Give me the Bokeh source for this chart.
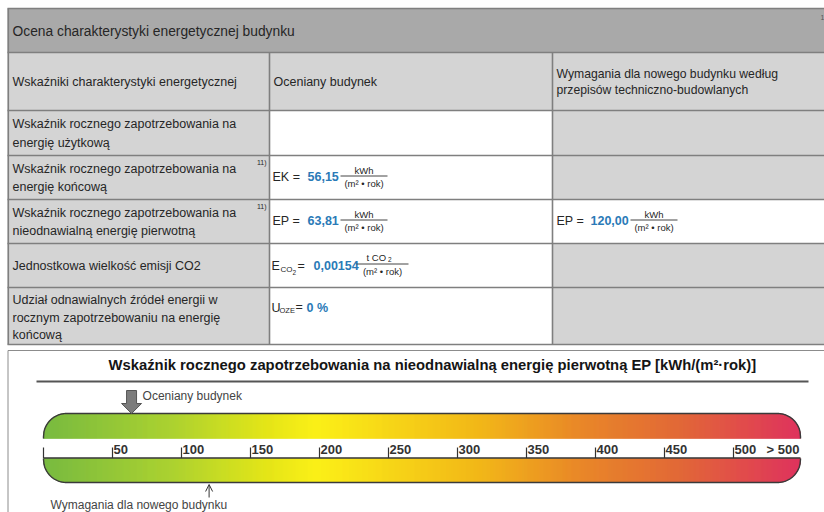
import numpy as np
from bokeh.plotting import figure
from bokeh.models import Range1d, Arrow, OpenHead
from bokeh.embed import file_html
from bokeh.resources import INLINE
from bokeh.core.properties import value

# ---------------- data ----------------
table_title = "Ocena charakterystyki energetycznej budynku"
col_header_1 = "Wskaźniki charakterystyki energetycznej"
col_header_2 = "Oceniany budynek"
col_header_3 = ["Wymagania dla nowego budynku według", "przepisów techniczno-budowlanych"]
row_labels = [
    ["Wskaźnik rocznego zapotrzebowania na", "energię użytkową"],
    ["Wskaźnik rocznego zapotrzebowania na", "energię końcową"],
    ["Wskaźnik rocznego zapotrzebowania na", "nieodnawialną energię pierwotną"],
    ["Jednostkowa wielkość emisji CO2"],
    ["Udział odnawialnych źródeł energii w", "rocznym zapotrzebowaniu na energię", "końcową"],
]
footnote_mark = "11)"
ek_building = 56.15
ep_building = 63.81
ep_required = 120.00
eco2_building = 0.00154
oze_building = 0
scale_title = "Wskaźnik rocznego zapotrzebowania na nieodnawialną energię pierwotną EP [kWh/(m²·rok)]"
scale_ticks = [0, 50, 100, 150, 200, 250, 300, 350, 400, 450, 500]
scale_tick_labels = ["", "50", "100", "150", "200", "250", "300", "350", "400", "450", "500"]
scale_overflow_label = "> 500"
marker_building = "Oceniany budynek"
marker_required = "Wymagania dla nowego budynku"

# ---------------- style / layout ----------------
FONT = value("Liberation Sans")
TXT = "#262626"
BLUE = "#2a7ab7"
DARK = "#a9a9a9"
LIGHT = "#d4d4d4"
WHITE = "#ffffff"
BORDER = "#7f7f7f"

W, H = 824, 512
p = figure(width=W, height=H, x_range=Range1d(0, W), y_range=Range1d(H, 0),
           output_backend="svg", toolbar_location=None, min_border=0,
           x_axis_location=None, y_axis_location=None)
p.grid.visible = False
p.outline_line_color = None
p.background_fill_color = "white"

BAR_L, BAR_R = 43.0, 800.0
PX_PER_EP = 1.38
p.extra_x_ranges = {"ep": Range1d((0 - BAR_L) / PX_PER_EP, (W - BAR_L) / PX_PER_EP)}


def txt(x, y, s, size="12.5px", bold=False, color=TXT, align="left", baseline="middle",
        xr=None, x_offset=0):
    kw = dict(x=[x], y=[y], text=[s], text_font=FONT, text_font_size=value(size),
              text_font_style="bold" if bold else "normal", text_color=color,
              text_align=align, text_baseline=baseline, x_offset=x_offset)
    if xr:
        kw["x_range_name"] = xr
    p.text(**kw)


def fmt(v, d):
    return f"{v:.{d}f}".replace(".", ",")


# ---------------- table ----------------
rows_y = [8, 52, 110, 155, 199, 243, 287, 344]
cols_x = [7, 269, 552, 824]
cell_fill = [
    [LIGHT, LIGHT, LIGHT],
    [LIGHT, WHITE, LIGHT],
    [LIGHT, WHITE, LIGHT],
    [LIGHT, WHITE, WHITE],
    [LIGHT, WHITE, LIGHT],
    [LIGHT, WHITE, LIGHT],
]
L, R_, T, B, C = [7], [824], [rows_y[0]], [rows_y[1]], [DARK]
for ri, row in enumerate(cell_fill):
    for ci, col in enumerate(row):
        L.append(cols_x[ci]); R_.append(cols_x[ci + 1])
        T.append(rows_y[ri + 1]); B.append(rows_y[ri + 2]); C.append(col)
p.quad(left=L, right=R_, top=T, bottom=B, fill_color=C, line_color=None)

# borders
p.segment(x0=[7] * len(rows_y), y0=rows_y, x1=[824] * len(rows_y), y1=rows_y,
          line_color=BORDER, line_width=1.6)
p.segment(x0=[7.8, 269, 552], y0=[8, 52, 52], x1=[7.8, 269, 552], y1=[344, 344, 344],
          line_color=BORDER, line_width=1.6)

# header texts
txt(12, 31, table_title, size="13.8px")
txt(820, 17, "1", size="7px", color="#555555")
txt(12, 81, col_header_1)
txt(273, 81, col_header_2)
txt(556, 73, col_header_3[0], size="12.2px")
txt(556, 89, col_header_3[1], size="12.2px")

# row labels
label_lines_y = [[123, 142], [168, 186], [212, 230], [265], [299, 317, 334]]
for lines, ys in zip(row_labels, label_lines_y):
    for s, yy in zip(lines, ys):
        txt(12, yy, s)
txt(266, 162, footnote_mark, size="7px", align="right")
txt(266, 206, footnote_mark, size="7px", align="right")

UNIT_DEN = "(m² • rok)"


def frac(cx, yl, num, den, hw):
    txt(cx, yl - 6, num, size="9.5px", align="center")
    p.segment(x0=[cx - hw], y0=[yl], x1=[cx + hw], y1=[yl], line_color="#444", line_width=1)
    txt(cx, yl + 7.5, den, size="9.5px", align="center")


# EK
txt(272, 176, "EK =")
txt(307, 176, fmt(ek_building, 2), bold=True, color=BLUE)
frac(363.5, 175.5, "kWh", UNIT_DEN, 23.5)
# EP
txt(272, 220, "EP =")
txt(307, 220, fmt(ep_building, 2), bold=True, color=BLUE)
frac(363.5, 219.5, "kWh", UNIT_DEN, 23.5)
txt(556, 220, "EP =")
txt(590, 220, fmt(ep_required, 2), bold=True, color=BLUE)
frac(653.5, 219.5, "kWh", UNIT_DEN, 23.5)
# CO2
txt(271, 265, "E")
txt(280, 269, "CO", size="8px")
txt(292, 271.5, "2", size="6.5px")
txt(297, 265, "=")
txt(313, 265, fmt(eco2_building, 5), bold=True, color=BLUE)
txt(366, 257, "t CO", size="9.5px")
txt(387.5, 259, "2", size="6.5px")
p.segment(x0=[356], y0=[263.5], x1=[408], y1=[263.5], line_color="#444", line_width=1)
txt(382, 271, UNIT_DEN, size="9.5px", align="center")
# OZE
txt(271, 307, "U")
txt(279, 310, "OZE", size="7.5px")
txt(295, 306, "=")
txt(306, 307, f"{oze_building} %", bold=True, color=BLUE)

# ---------------- scale box ----------------
p.segment(x0=[7.5, 7.5], y0=[350, 350], x1=[824, 7.5], y1=[350, 512],
          line_color="#8c8c8c", line_width=1)
txt(432, 364, scale_title, size="14.8px", bold=True, color="#151515", align="center")
p.segment(x0=[36], y0=[381], x1=[808], y1=[381], line_color="#555555", line_width=2)

grad_t = [0.0, 0.17, 0.30, 0.36, 0.47, 0.58, 0.70, 0.84, 1.0]
grad_c = ["#6bb42e", "#a4ce1c", "#e4e400", "#fbef00", "#f6cf00", "#f1af02", "#e87f12",
          "#df5a24", "#dc1f4e"]
rgb = np.array([[int(c[i:i + 2], 16) for i in (1, 3, 5)] for c in grad_c], dtype=float)

RAD = 23.0


def round_off(xc):
    dx = np.where(xc < BAR_L + RAD, BAR_L + RAD - xc,
                  np.where(xc > BAR_R - RAD, xc - (BAR_R - RAD), 0.0))
    dx = np.minimum(dx, RAD)
    return RAD - np.sqrt(RAD ** 2 - dx ** 2)


xs = np.arange(BAR_L, BAR_R, 1.0)
xc = xs + 0.5
t = (xc - BAR_L) / (BAR_R - BAR_L)
cols = []
for tt in t:
    r = np.interp(tt, grad_t, rgb[:, 0]); g = np.interp(tt, grad_t, rgb[:, 1]); b = np.interp(tt, grad_t, rgb[:, 2])
    cols.append("#%02x%02x%02x" % (int(r), int(g), int(b)))
off = round_off(xc)
UP_T, UP_B, LO_T, LO_B = 413.0, 438.0, 458.0, 482.0
p.quad(left=xs, right=xs + 1, top=UP_T + off, bottom=UP_B, fill_color=cols, line_color=cols,
       line_width=0.4)
p.quad(left=xs, right=xs + 1, top=LO_T, bottom=LO_B - off, fill_color=cols, line_color=cols,
       line_width=0.4)

# outlines
ox = np.arange(BAR_L, BAR_R + 0.01, 0.5)
oo = round_off(ox)
p.line(x=np.concatenate([[BAR_L], ox, [BAR_R]]), y=np.concatenate([[UP_B], UP_T + oo, [UP_B]]),
       line_color="#3a3a3a", line_width=1.4)
p.line(x=np.concatenate([[BAR_L], ox, [BAR_R]]), y=np.concatenate([[LO_T], LO_B - oo, [LO_T]]),
       line_color="#3a3a3a", line_width=1.4)
p.segment(x0=[BAR_L], y0=[457.5], x1=[BAR_R], y1=[457.5], line_color="#333333", line_width=1.4)

# ticks
p.segment(x0=scale_ticks, y0=[447] * len(scale_ticks), x1=scale_ticks, y1=[457.5] * len(scale_ticks),
          line_color="#333333", line_width=1.2, x_range_name="ep")
p.text(x=scale_ticks, y=[448.5] * len(scale_ticks), text=scale_tick_labels, text_font=FONT,
       text_font_size=value("13px"), text_font_style="bold", text_color="#333333",
       text_align="left", text_baseline="middle", x_offset=1, x_range_name="ep")
txt(BAR_R - 1, 448.5, scale_overflow_label, size="13px", bold=True, color="#333333", align="right")

# evaluated building marker (block arrow)
hs, hh = 5.0 / PX_PER_EP, 10.0 / PX_PER_EP
v = ep_building
p.patch(x=[v - hs, v + hs, v + hs, v + hh, v, v - hh, v - hs],
        y=[390, 390, 403, 403, 413, 403, 403],
        fill_color="#7c7c7c", line_color="#555555", line_width=1, x_range_name="ep")
txt(ep_building, 395, marker_building, size="12px", color="#444444", xr="ep", x_offset=11)

# requirement marker (thin arrow)
p.add_layout(Arrow(end=OpenHead(size=7, line_color="#333333", line_width=1),
                   x_start=ep_required, y_start=497, x_end=ep_required, y_end=484,
                   line_color="#333333", line_width=1, x_range_name="ep"))
txt(50, 504, marker_required, size="12px", color="#444444")

open("out.html", "w").write(file_html(p, INLINE))
